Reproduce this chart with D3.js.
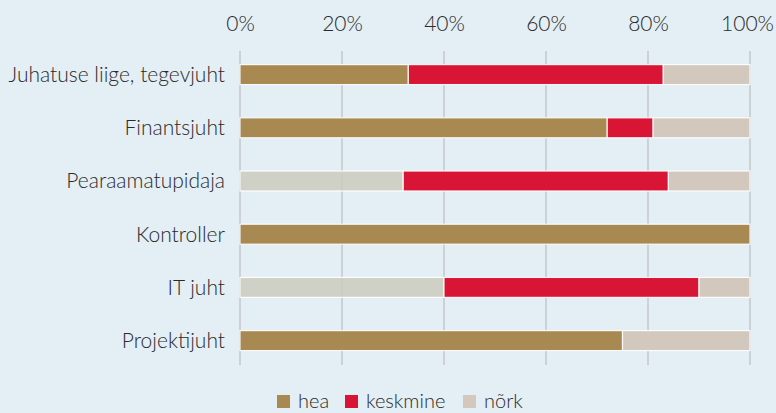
<!DOCTYPE html>
<html>
<head>
<meta charset="utf-8">
<script src="https://cdn.jsdelivr.net/npm/d3@7"></script>
<style>
  body { margin: 0; background: #e3eef5; }
  svg { display: block; font-family: "Lato", sans-serif; font-weight: 300; }
</style>
</head>
<body>
<svg id="bar-chart"></svg>
<script>
// Categories and shares (%) per rating
const categories = ["Juhatuse liige, tegevjuht", "Finantsjuht", "Pearaamatupidaja", "Kontroller", "IT juht", "Projektijuht"];
const headStart = [0, 0, 32, 0, 40, 0];   // unlabeled light segment at bar start
const hea = [33, 72, 0, 100, 0, 75];
const keskmine = [50, 9, 52, 0, 50, 0];
const nork = [17, 19, 16, 0, 10, 25];
const ticks = [0, 20, 40, 60, 80, 100];

const legendKeys = ["hea", "keskmine", "nõrk"];
const colors = { lead: "#cdcbbd", hea: "#a88951", keskmine: "#d91535", "nõrk": "#d3c8bd" };

const width = 776, height = 413;

const svg = d3.select("#bar-chart")
    .attr("width", width)
    .attr("height", height);

const rows = categories.map((c, i) => ({
    name: c, lead: headStart[i], hea: hea[i], keskmine: keskmine[i], "nõrk": nork[i]
}));

const keys = ["lead", "hea", "keskmine", "nõrk"];
const stacked = d3.stack().keys(keys)(rows);

const x = d3.scaleLinear().domain([0, 100]).range([240, 750]);
const y = d3.scaleBand().domain(categories).range([48, 367.2]).paddingInner(0.625).paddingOuter(0.3125);

// Grid lines
svg.append("g")
    .selectAll("line")
    .data(ticks)
    .join("line")
    .attr("x1", d => x(d)).attr("x2", d => x(d))
    .attr("y1", 51).attr("y2", 365)
    .attr("stroke", "#b9bfc5")
    .attr("stroke-width", 1.2);

// Top axis labels
svg.append("g")
    .call(d3.axisTop(x).tickValues(ticks).tickFormat(d => d + "%").tickSize(0).tickPadding(0))
    .attr("transform", "translate(0, 31)")
    .call(g => g.select(".domain").remove())
    .selectAll("text")
    .attr("font-size", 21)
    .attr("font-family", "Lato, sans-serif")
    .attr("fill", "#2a2a2a")
    .attr("dx", d => d === 100 ? -3 : 0);

// Bars
svg.append("g")
    .selectAll("g")
    .data(stacked)
    .join("g")
    .attr("fill", d => colors[d.key])
    .attr("fill-opacity", d => d.key === "lead" ? 0.85 : 1)
    .selectAll("rect")
    .data(d => d.filter(s => s[1] - s[0] > 0))
    .join("rect")
    .attr("x", d => x(d[0]))
    .attr("y", d => y(d.data.name))
    .attr("width", d => x(d[1]) - x(d[0]))
    .attr("height", y.bandwidth())
    .attr("stroke", "#ffffff")
    .attr("stroke-opacity", 0.9)
    .attr("stroke-width", 1.2);

// Category labels
svg.append("g")
    .selectAll("text")
    .data(categories)
    .join("text")
    .attr("x", 225)
    .attr("y", d => y(d) + y.bandwidth() / 2)
    .attr("dy", "0.35em")
    .attr("text-anchor", "end")
    .attr("font-size", 21)
    .attr("fill", "#2a2a2a")
    .text(d => d);

// Legend
const legendX = [277, 345, 463];
const legend = svg.append("g")
    .selectAll("g")
    .data(legendKeys)
    .join("g")
    .attr("transform", (d, i) => `translate(${legendX[i]}, 395)`);

legend.append("rect")
    .attr("width", 13).attr("height", 13)
    .attr("fill", d => colors[d]);

legend.append("text")
    .attr("x", 21)
    .attr("y", 13)
    .attr("font-size", 20)
    .attr("fill", "#2a2a2a")
    .text(d => d);
</script>
</body>
</html>
